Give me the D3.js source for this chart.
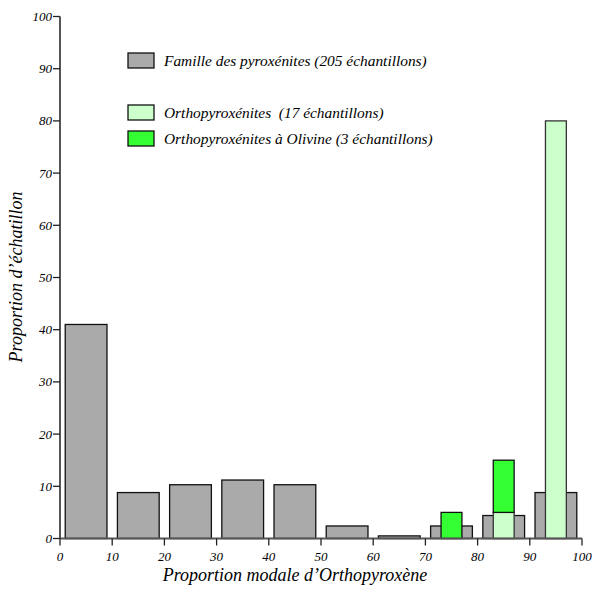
<!DOCTYPE html>
<html><head><meta charset="utf-8">
<script src="https://cdn.jsdelivr.net/npm/d3@7"></script>
<style>body{margin:0;background:#fff}svg{display:block}text{font-family:"Liberation Serif","Times New Roman",serif;font-style:italic;white-space:pre}</style>
</head><body>
<script>
const binStarts = [0,10,20,30,40,50,60,70,80,90];
const famille = [41, 8.8, 10.3, 11.2, 10.3, 2.4, 0.5, 2.4, 4.4, 8.8];
const ortho = [0,0,0,0,0,0,0,0,5,80];
const orthoOl = [0,0,0,0,0,0,0,5,10,0];
const xTicks = [0,10,20,30,40,50,60,70,80,90,100];
const yTicks = [0,10,20,30,40,50,60,70,80,90,100];
const legendLabels = ["Famille des pyroxénites (205 échantillons)","Orthopyroxénites  (17 échantillons)","Orthopyroxénites à Olivine (3 échantillons)"];
const colors = {gray:"#aaaaaa", pale:"#ccffcc", green:"#33ff33"};

const W=593,H=591;
const svg=d3.select("body").append("svg").attr("width",W).attr("height",H);
const x=d3.scaleLinear().domain([0,100]).range([60,582]);
const y=d3.scaleLinear().domain([0,100]).range([538.5,16.5]);

// gray bars
svg.selectAll("rect.g").data(binStarts).enter().append("rect")
 .attr("x",d=>x(d+1)).attr("width",x(9)-x(1))
 .attr("y",(d,i)=>y(famille[i])).attr("height",(d,i)=>y(0)-y(famille[i]))
 .attr("fill",colors.gray).attr("stroke","#111").attr("stroke-width",1.3);
// pale bars
svg.selectAll("rect.p").data(binStarts).enter().append("rect")
 .attr("x",d=>x(d+3)).attr("width",x(4)-x(0))
 .attr("y",(d,i)=>y(ortho[i])).attr("height",(d,i)=>y(0)-y(ortho[i]))
 .attr("fill",colors.pale).attr("stroke",(d,i)=>ortho[i]>0?"#333":"none").attr("stroke-width",1.3);
// green bars stacked on pale
svg.selectAll("rect.o").data(binStarts).enter().append("rect")
 .attr("x",d=>x(d+3)).attr("width",x(4)-x(0))
 .attr("y",(d,i)=>y(ortho[i]+orthoOl[i])).attr("height",(d,i)=>y(ortho[i])-y(ortho[i]+orthoOl[i]))
 .attr("fill",colors.green).attr("stroke",(d,i)=>orthoOl[i]>0?"#111":"#1f5f1f").attr("stroke-width",(d,i)=>orthoOl[i]>0?1.3:1);

// axes
const axCol="#555";
svg.append("line").attr("x1",x(0)).attr("x2",x(100)).attr("y1",y(0)).attr("y2",y(0)).attr("stroke",axCol).attr("stroke-width",2);
svg.append("line").attr("x1",x(0)).attr("x2",x(0)).attr("y1",y(0)).attr("y2",y(100)).attr("stroke",axCol).attr("stroke-width",2);
svg.selectAll("line.xt").data(xTicks).enter().append("line")
 .attr("x1",d=>x(d)).attr("x2",d=>x(d)).attr("y1",y(0)).attr("y2",y(0)+7).attr("stroke","#222").attr("stroke-width",1.3);
svg.selectAll("line.yt").data(yTicks).enter().append("line")
 .attr("x1",x(0)-7).attr("x2",x(0)).attr("y1",d=>y(d)).attr("y2",d=>y(d)).attr("stroke","#222").attr("stroke-width",1.3);
svg.selectAll("text.xl").data(xTicks).enter().append("text")
 .attr("x",d=>x(d)).attr("y",y(0)+22).attr("text-anchor","middle").attr("font-size",13).text(d=>d);
svg.selectAll("text.yl").data(yTicks).enter().append("text")
 .attr("x",x(0)-8).attr("y",d=>y(d)+4.5).attr("text-anchor","end").attr("font-size",13).text(d=>d);

svg.append("text").attr("x",295).attr("y",581).attr("text-anchor","middle").attr("font-size",18).text("Proportion modale d’Orthopyroxène");
svg.append("text").attr("transform","translate(22,277) rotate(-90)").attr("text-anchor","middle").attr("font-size",18).text("Proportion d’échatillon");

// legend
const legY=[61,113,139];
const legCol=[colors.gray,colors.pale,colors.green];
legendLabels.forEach((t,i)=>{
  svg.append("rect").attr("x",128).attr("y",legY[i]-8).attr("width",26).attr("height",15).attr("fill",legCol[i]).attr("stroke","#111").attr("stroke-width",1.3);
  svg.append("text").attr("x",164).attr("y",legY[i]+5).attr("font-size",15.4).text(t);
});
</script>
</body></html>
